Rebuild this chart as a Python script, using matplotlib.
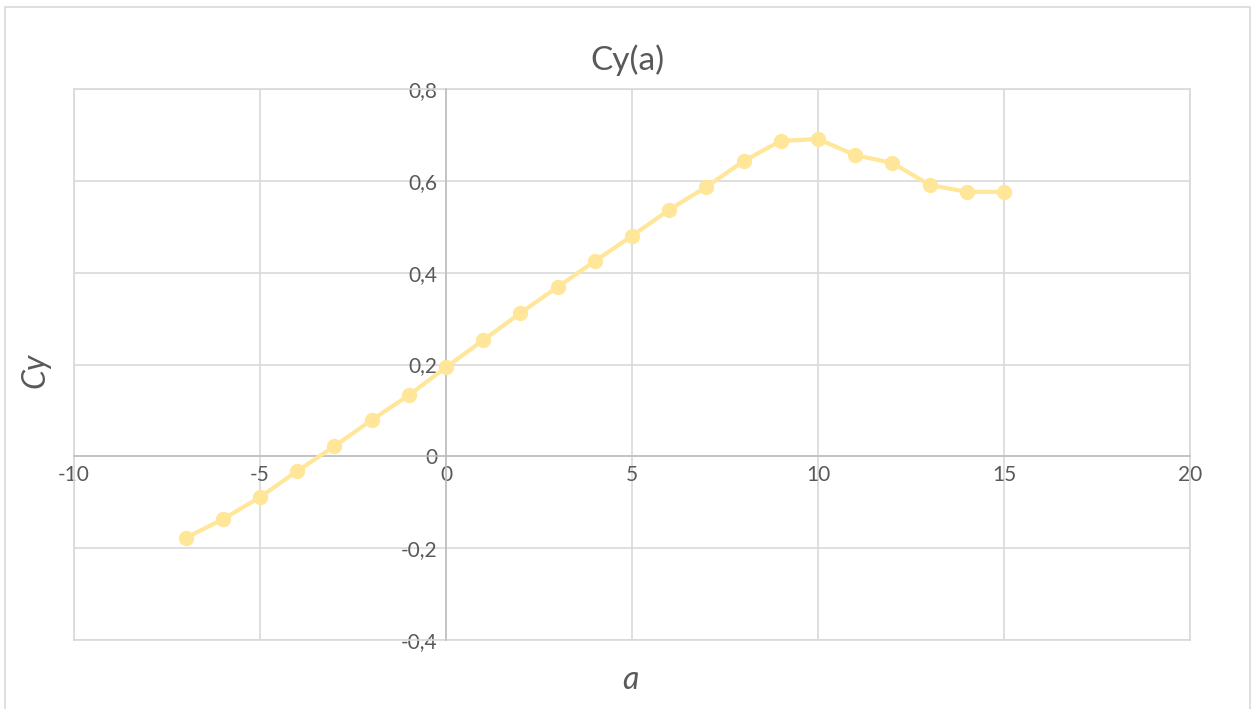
import matplotlib
matplotlib.use("Agg")
import matplotlib.pyplot as plt
from matplotlib.patches import Rectangle
from matplotlib.ticker import FuncFormatter

plt.rcParams['font.family'] = ['Lato', 'DejaVu Sans']

# angle of attack and lift coefficient
alpha = [-7, -6, -5, -4, -3, -2, -1, 0, 1, 2, 3, 4, 5, 6, 7, 8, 9, 10, 11, 12, 13, 14, 15]
cy = [-0.178, -0.137, -0.089, -0.032, 0.022, 0.079, 0.133, 0.194, 0.253, 0.312, 0.369,
      0.425, 0.480, 0.537, 0.587, 0.643, 0.687, 0.691, 0.656, 0.639, 0.591, 0.576, 0.576]
xticks = [-10, -5, 0, 5, 10, 15, 20]
yticks = [-0.4, -0.2, 0, 0.2, 0.4, 0.6, 0.8]

fig = plt.figure(figsize=(12.57, 7.09), dpi=100)
fig.patches.append(Rectangle((5 / 1257, -0.01), 1245 / 1257, 1 - 7 / 709 + 0.01,
                             transform=fig.transFigure, fill=False, ec="#D9D9D9", lw=1.2))
ax = fig.add_axes([74 / 1257, 1 - 640 / 709, 1116 / 1257, 551 / 709])

ax.plot(alpha, cy, color="#FFE699", lw=3, marker="o", ms=10, zorder=3, clip_on=False)

ax.set_xlim(-10, 20)
ax.set_ylim(-0.4, 0.8)
ax.set_xticks(xticks)
ax.set_yticks(yticks)
ax.yaxis.set_major_formatter(FuncFormatter(lambda v, p: f"{v:.1f}".replace(".", ",") if abs(v) > 1e-9 else "0"))
ax.xaxis.set_major_formatter(FuncFormatter(lambda v, p: f"{v:g}"))
ax.grid(True, color="#D9D9D9", lw=1.2)
ax.set_axisbelow(True)
for s in ("top", "right"):
    ax.spines[s].set_visible(False)
ax.spines["left"].set_position(("data", 0))
ax.spines["bottom"].set_position(("data", 0))
ax.spines["left"].set_color("#BFBFBF")
ax.spines["bottom"].set_color("#BFBFBF")
ax.spines["left"].set_linewidth(1.2)
ax.spines["bottom"].set_linewidth(1.2)
for v in (-10, 20):
    ax.axvline(v, color="#D9D9D9", lw=1.2, clip_on=False)
for v in (-0.4, 0.8):
    ax.axhline(v, color="#D9D9D9", lw=1.2, clip_on=False)
ax.tick_params(length=0, labelsize=15, colors="#595959", pad=6)

fig.text(627 / 1257, 1 - 60 / 709, "Cy(a)", ha="center", va="center", fontsize=24, color="#595959")
fig.text(35 / 1257, 1 - 370 / 709, "Cy", ha="center", va="center", fontsize=23, color="#595959",
         rotation=90, style="italic")
fig.text(630 / 1257, 1 - 680 / 709, "a", ha="center", va="center", fontsize=23, color="#595959",
         style="italic")

fig.savefig("out.png", dpi=100)
